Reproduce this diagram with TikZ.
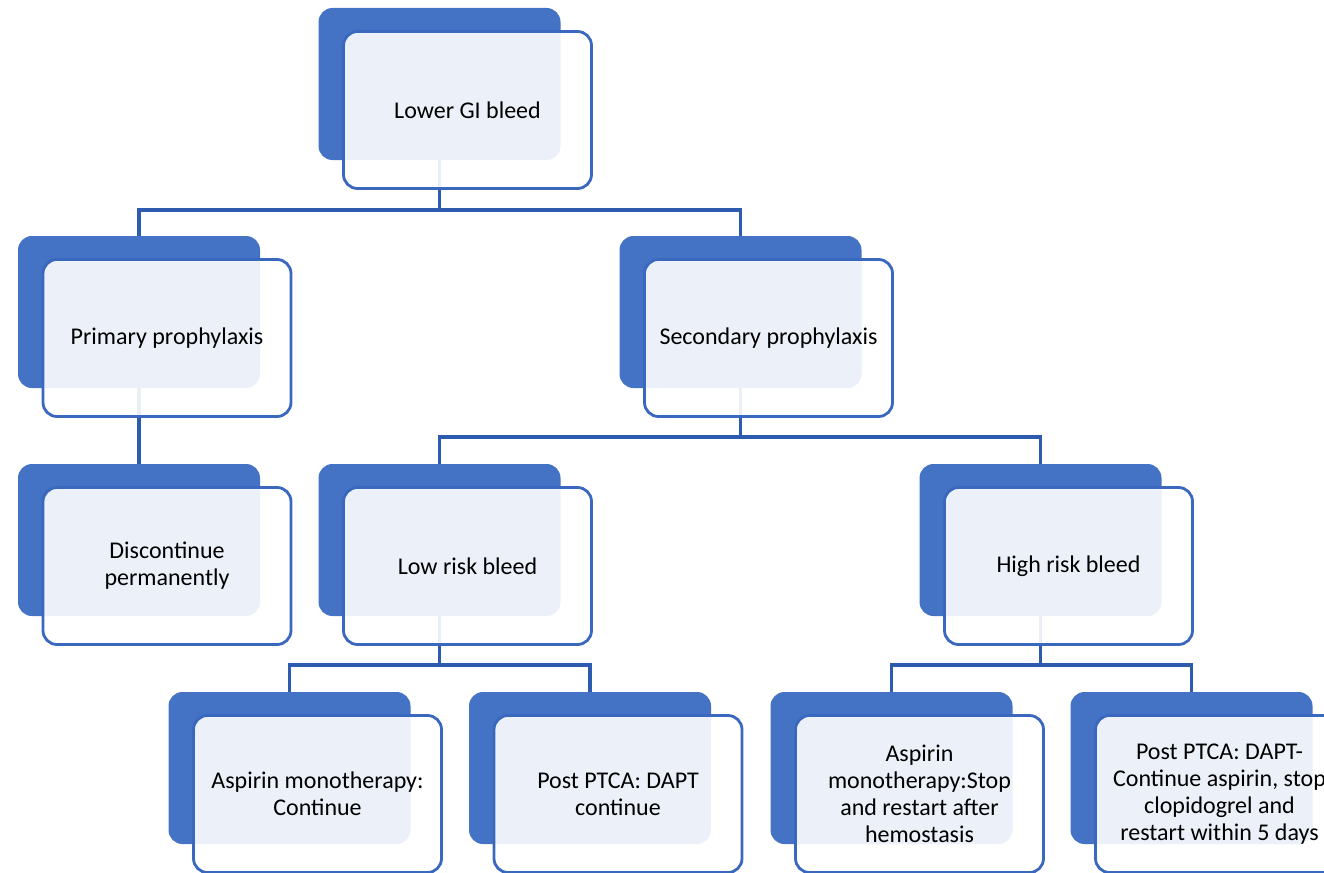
\documentclass[tikz,border=0pt]{standalone}
\usepackage{fontspec}
\setmainfont{Carlito}
\usetikzlibrary{calc}
\definecolor{boxblue}{HTML}{4472C4}
\definecolor{edgeblue}{HTML}{3A68BE}
\definecolor{connblue}{HTML}{2D5BB0}
\tikzset{
  backbox/.style={draw=none, fill=boxblue, rounded corners=14pt, minimum width=242pt, minimum height=152pt, inner sep=0pt},
  frontbox/.style={draw=edgeblue, line width=2.8pt, fill=white, fill opacity=0.9, text opacity=1, rounded corners=14pt, minimum width=248pt, minimum height=157pt, inner sep=0pt, align=center, font=\fontsize{24}{27}\selectfont, text=black},
  conn/.style={draw=connblue, line width=3.2pt}
}
\begin{document}
\begin{tikzpicture}[x=1pt,y=-1pt]
\useasboundingbox (0,0) rectangle (1324,872);
\clip (0,0) rectangle (1324,872);
% back boxes
\node[backbox] (b1) at (439.5,84) {};
\node[backbox] (b2) at (139,312) {};
\node[backbox] (b3) at (740.5,312) {};
\node[backbox] (b4) at (139,540) {};
\node[backbox] (b5) at (439.5,540) {};
\node[backbox] (b6) at (1040.5,540) {};
\node[backbox] (b7) at (289.5,768) {};
\node[backbox] (b8) at (590,768) {};
\node[backbox] (b9) at (891.5,768) {};
\node[backbox] (b10) at (1191.5,768) {};
% connectors
\coordinate (j1) at (439.5,210);
\coordinate (j2) at (740.5,437);
\coordinate (j3) at (439.5,665);
\coordinate (j4) at (1040.5,665);
\draw[conn] (b1.south) -- (j1);
\draw[conn] (b2.north) |- (j1) -| (b3.north);
\draw[conn] (b2.south) -- (b4.north);
\draw[conn] (b3.south) -- (j2);
\draw[conn] (b5.north) |- (j2) -| (b6.north);
\draw[conn] (b5.south) -- (j3);
\draw[conn] (b7.north) |- (j3) -| (b8.north);
\draw[conn] (b6.south) -- (j4);
\draw[conn] (b9.north) |- (j4) -| (b10.north);
% front boxes
\node[frontbox] (f1) at ($(b1)+(28,26)$) {Lower GI bleed};
\node[frontbox] (f2) at ($(b2)+(28,26)$) {Primary prophylaxis};
\node[frontbox] (f3) at ($(b3)+(28,26)$) {Secondary prophylaxis};
\node[frontbox] (f4) at ($(b4)+(28,26)$) {Discontinue\\permanently};
\node[frontbox] (f5) at ($(b5)+(28,26)$) {Low risk bleed};
\node[frontbox] (f6) at ($(b6)+(28,26)$) {High risk bleed};
\node[frontbox] (f7) at ($(b7)+(28,26)$) {Aspirin monotherapy:\\Continue};
\node[frontbox] (f8) at ($(b8)+(28,26)$) {Post PTCA: DAPT\\continue};
\node[frontbox] (f9) at ($(b9)+(28,26)$) {Aspirin\\monotherapy:Stop\\and restart after\\hemostasis};
\node[frontbox] (f10) at ($(b10)+(28,26)$) {Post PTCA: DAPT-\\Continue aspirin, stop\\clopidogrel and\\restart within 5 days};
\end{tikzpicture}
\end{document}
